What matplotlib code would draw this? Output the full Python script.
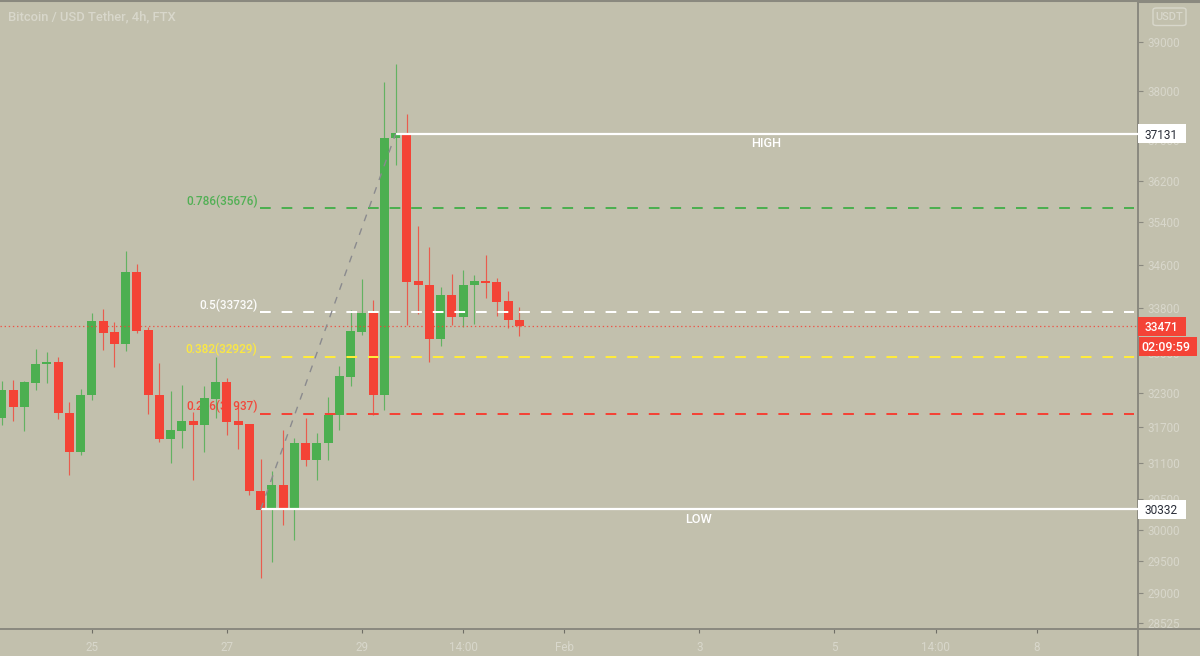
import matplotlib
matplotlib.use("Agg")
import matplotlib.pyplot as plt
from matplotlib.lines import Line2D
from matplotlib.patches import Rectangle, FancyBboxPatch

# ---- data -------------------------------------------------------------
opens = [31861, 32349, 32059, 32472, 32793, 32841, 31952, 31291, 32250, 33562,
         33363, 33159, 34459, 33399, 32262, 31507, 31644, 31803, 31746, 32192,
         32484, 31803, 31758, 30638, 30342, 30732, 30342, 31434, 31141, 31427,
         31905, 32572, 33376, 33718, 32250, 37035, 37131, 34300, 34225, 33249,
         34046, 33641, 34218, 34300, 34281, 33930, 33592]
highs = [32495, 32525, 32500, 33064, 33016, 32928, 32135, 32361, 33713, 33791,
         33543, 34860, 34620, 33466, 32818, 32326, 32426, 31964, 32414, 32928,
         32555, 32140, 31763, 31165, 30958, 31649, 31519, 31866, 31604, 32221,
         32758, 33773, 34336, 33953, 38176, 38554, 37530, 35324, 34930, 34188,
         34423, 34509, 34405, 34786, 34355, 34120, 33827]
lows = [31746, 31803, 31644, 32349, 32467, 31849, 30899, 31241, 32179, 33051,
        32741, 33039, 33352, 31923, 31456, 31092, 31358, 30821, 31291, 31861,
        31575, 31336, 30571, 29231, 29477, 30078, 29829, 31042, 30821, 31141,
        31661, 32407, 33316, 31905, 32003, 36501, 33502, 33700, 32828, 33123,
        33497, 33461, 33520, 33996, 33652, 33435, 33304]
closes = [32349, 32059, 32484, 32805, 32841, 31940, 31291, 32262, 33562, 33358,
          33165, 34459, 33394, 32250, 31507, 31656, 31803, 31741, 32209, 32484,
          31793, 31741, 30626, 30315, 30732, 30342, 31434, 31141, 31434, 31917,
          32583, 33381, 33718, 32250, 37049, 37143, 34287, 34218, 33249, 34046,
          33641, 34225, 34300, 34262, 33922, 33587, 33471]

y_ticks = [39000, 38000, 37000, 36200, 35400, 34600, 33800, 33000, 32300,
           31700, 31100, 30500, 30000, 29500, 29000, 28525]
x_ticks = [8, 20, 32, 41, 50, 62, 74, 83, 92]
x_tick_labels = ["25", "27", "29", "14:00", "Feb", "3", "5", "14:00", "8"]

high_level = 37131
low_level = 30332
last_price = 33471
countdown = "02:09:59"
fib_ratios = ["0.786", "0.5", "0.382", "0.236"]
fib_levels = [35676, 33732, 32929, 31937]
fib_colors = ["#4caf50", "#ffffff", "#ffeb3b", "#f44336"]
title = "Bitcoin / USD Tether, 4h, FTX"
currency = "USDT"

# ---- style ------------------------------------------------------------
BG = "#c2c0ad"
GREEN = "#4caf50"
RED = "#f44336"
MUTED = "#d8d7cb"
AXIS = "#8a897f"
W, H = 1200, 656
plt.rcParams["font.family"] = ["Roboto", "DejaVu Sans"]

fig = plt.figure(figsize=(W / 100, H / 100), dpi=100, facecolor=BG)
ax = fig.add_axes([0, 27 / H, 1138 / W, 629 / H], facecolor=BG)
ax.set_yscale("log")
ax.set_xlim(-0.17, 100.98)
ax.set_ylim(28440, 39902)

# ---- candles ----------------------------------------------------------
for i, (o, h, l, c) in enumerate(zip(opens, highs, lows, closes)):
    col = GREEN if c >= o else RED
    ax.vlines(i, l, h, color=col, lw=0.85, alpha=0.8, zorder=3)
    ax.bar(i, abs(c - o), bottom=min(o, c), width=0.8, color=col,
           edgecolor="none", zorder=3.2)

# ---- fibonacci ---------------------------------------------------------
for r, lv, col in zip(fib_ratios, fib_levels, fib_colors):
    ax.hlines(lv, 22.9, 100.6, color=col, lw=1.44, zorder=4,
              linestyles=[(0, (5.35, 5.45))])
    ax.annotate(f"{r}({lv})", xy=(22.9, lv), xytext=(-2, 7),
                textcoords="offset pixels", ha="right", va="center",
                color=col, fontsize=8.5, fontweight="medium", zorder=1, alpha=0.95)

# ---- high / low --------------------------------------------------------
ax.hlines(high_level, 35, 100.98, color="#ffffff", lw=1.6, zorder=5)
ax.hlines(low_level, 23, 100.98, color="#ffffff", lw=1.6, zorder=5)
ax.annotate("HIGH", xy=(67.9, high_level), xytext=(0, -10),
            textcoords="offset pixels", ha="center", va="center",
            color="white", fontsize=9.2, fontweight="medium", zorder=5)
ax.annotate("LOW", xy=(61.9, low_level), xytext=(0, -10),
            textcoords="offset pixels", ha="center", va="center",
            color="white", fontsize=9.2, fontweight="medium", zorder=5)

# ---- last price + trend ------------------------------------------------
ax.hlines(last_price, -0.17, 100.98, color=RED, lw=0.9, alpha=0.85, zorder=4,
          linestyles=[(0, (1.1, 2.2))])
ax.plot([23, 35], [low_level, high_level], color="#8a8a8e", lw=1.0,
        ls=(0, (5, 5.5)), zorder=5)

# ---- axes --------------------------------------------------------------
ax.yaxis.tick_right()
ax.set_yticks(y_ticks)
ax.set_yticklabels([str(v) for v in y_ticks])
ax.minorticks_off()
ax.set_xticks(x_ticks)
ax.set_xticklabels(x_tick_labels)
ax.tick_params(axis="y", length=3.6, width=0.8, color=AXIS, pad=3,
               labelcolor=MUTED, labelsize=8.4)
ax.tick_params(axis="x", length=3, width=0.8, color="#6f6e66", pad=5.5,
               labelcolor=MUTED, labelsize=8.4)
ax.spines["left"].set_visible(False)
for s in ("right", "bottom", "top"):
    ax.spines[s].set_color(AXIS)
    ax.spines[s].set_linewidth(1.4)
ax.spines["top"].set_linewidth(2.2)

# extensions of the axis lines into the margins
fig.add_artist(Line2D([1138 / W, 1], [27 / H, 27 / H], color=AXIS, lw=1.4))
fig.add_artist(Line2D([1138 / W, 1138 / W], [0, 27 / H], color=AXIS, lw=1.4))
fig.add_artist(Line2D([1138 / W, 1], [1 - 0.5 / H, 1 - 0.5 / H], color=AXIS, lw=2.2))

# ---- title + currency ---------------------------------------------------
fig.text(8 / W, 1 - 17 / H, title, color=MUTED, fontsize=9.35,
         fontweight="medium", ha="left", va="center")
fig.add_artist(FancyBboxPatch((1153 / W, 1 - 25.5 / H), 33 / W, 17.5 / H,
                              boxstyle="round,pad=0,rounding_size=0.003",
                              fc="none", ec=MUTED, lw=1.0,
                              transform=fig.transFigure))
fig.text(1169.5 / W, 1 - 16.5 / H, currency, color=MUTED, fontsize=8.0,
         fontweight="medium", ha="center", va="center")


# ---- price badges --------------------------------------------------------
def badge(y_px, x0, x1, txt, fc, tc, **kw):
    h = 19
    fig.add_artist(Rectangle((x0 / W, 1 - (y_px + h / 2) / H), (x1 - x0) / W, h / H,
                             fc=fc, ec="none", transform=fig.transFigure, zorder=6))
    fig.text((x0 + x1) / 2 / W + kw.get("dx", 0) / W, 1 - y_px / H, txt, color=tc, ha="center",
             va="center_baseline", fontsize=kw.get("fontsize", 8.6),
             fontweight=kw.get("fontweight", "normal"), zorder=7)


def px_of(price):
    return H - (ax.transData.transform((0, price))[1])


badge(px_of(high_level), 1138, 1186, str(high_level), "#ffffff", "#2a2e39", dx=-0.5)
badge(px_of(low_level), 1138, 1186, str(low_level), "#ffffff", "#2a2e39", dx=-0.5)
badge(px_of(last_price), 1138, 1186, str(last_price), RED, "#ffffff", fontweight="medium", dx=-0.5)
badge(px_of(last_price) + 20, 1139, 1197, countdown, RED, "#ffffff", fontweight="medium",
      fontsize=9.0, dx=-2)

fig.savefig("out.png", dpi=100, facecolor=BG)
